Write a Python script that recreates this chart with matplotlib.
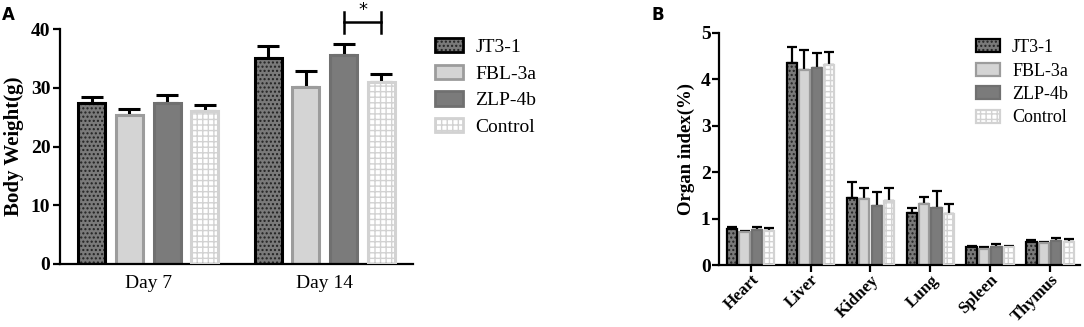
import numpy as np
import matplotlib
matplotlib.use("Agg")
import matplotlib.pyplot as plt
from matplotlib.patches import Patch
from matplotlib.legend_handler import HandlerTuple

# ---------------- data ----------------
groups = ["JT3-1", "FBL-3a", "ZLP-4b", "Control"]
days = ["Day 7", "Day 14"]
bw_mean = {
    "JT3-1": [27.4, 35.0],
    "FBL-3a": [25.4, 30.2],
    "ZLP-4b": [27.4, 35.5],
    "Control": [26.1, 30.9],
}
bw_err = {
    "JT3-1": [1.1, 2.1],
    "FBL-3a": [1.0, 2.6],
    "ZLP-4b": [1.3, 2.0],
    "Control": [1.0, 1.5],
}
organs = ["Heart", "Liver", "Kidney", "Lung", "Spleen", "Thymus"]
oi_mean = {
    "JT3-1": [0.78, 4.36, 1.45, 1.11, 0.39, 0.50],
    "FBL-3a": [0.72, 4.20, 1.42, 1.31, 0.35, 0.47],
    "ZLP-4b": [0.75, 4.24, 1.28, 1.22, 0.39, 0.51],
    "Control": [0.74, 4.30, 1.38, 1.09, 0.38, 0.50],
}
oi_err = {
    "JT3-1": [0.04, 0.33, 0.34, 0.12, 0.02, 0.04],
    "FBL-3a": [0.02, 0.43, 0.25, 0.15, 0.03, 0.03],
    "ZLP-4b": [0.06, 0.32, 0.29, 0.37, 0.06, 0.07],
    "Control": [0.05, 0.30, 0.29, 0.22, 0.02, 0.07],
}

# ---------------- styles ----------------
styles = {
    "JT3-1":   dict(face="#7a7a7a", hatch="....", hcol="#222222", edge="#000000"),
    "FBL-3a":  dict(face="#d4d4d4", hatch=None,   hcol=None,      edge="#9c9c9c"),
    "ZLP-4b":  dict(face="#7b7b7b", hatch=None,   hcol=None,      edge="#707070"),
    "Control": dict(face="#ffffff", hatch="+++",  hcol="#d2d2d2", edge="#d2d2d2"),
}
plt.rcParams["hatch.linewidth"] = 1.0
serif = ["Liberation Serif", "DejaVu Serif"]

fig = plt.figure(figsize=(10.84, 3.27), dpi=100)


def draw_bars(ax, x, h, err, g, width, elw, capsize, edge_lw):
    st = styles[g]
    ax.errorbar(x, h, yerr=[np.zeros_like(err), err], fmt="none",
                ecolor="black", elinewidth=elw, capsize=capsize,
                capthick=elw, zorder=1)
    if st["hatch"]:
        ax.bar(x, h, width, color=st["face"], edgecolor=st["hcol"],
               hatch=st["hatch"], linewidth=0, zorder=2)
        ax.bar(x, h, width, facecolor="none", edgecolor=st["edge"],
               linewidth=edge_lw, zorder=3)
    else:
        ax.bar(x, h, width, color=st["face"], edgecolor=st["edge"],
               linewidth=edge_lw, zorder=2)


def legend_handles(edge_lw):
    hs = []
    for g in groups:
        st = styles[g]
        if st["hatch"]:
            p1 = Patch(facecolor=st["face"], edgecolor=st["hcol"],
                       hatch=st["hatch"], linewidth=0)
            p2 = Patch(facecolor="none", edgecolor=st["edge"], linewidth=edge_lw)
            hs.append((p1, p2))
        else:
            hs.append(Patch(facecolor=st["face"], edgecolor=st["edge"],
                            linewidth=edge_lw))
    return hs


def style_axes(ax, fs, pad):
    for s in ["top", "right"]:
        ax.spines[s].set_visible(False)
    for s in ["left", "bottom"]:
        ax.spines[s].set_linewidth(1.6)
    ax.tick_params(axis="y", direction="out", length=5, width=1.6,
                   labelsize=fs, pad=pad)
    for lab in ax.get_yticklabels():
        lab.set_fontfamily(serif)
        lab.set_fontweight("bold")


# ---------------- Panel A ----------------
axA = fig.add_axes([60 / 1084, 1 - 264 / 327, 353 / 1084, 235 / 327])
xA = np.arange(len(days))
pitchA, wA = 0.214, 0.153
for i, g in enumerate(groups):
    off = (i - 1.5) * pitchA
    draw_bars(axA, xA + off, np.array(bw_mean[g]), np.array(bw_err[g]), g,
              wA, elw=2.2, capsize=8, edge_lw=2.2)
axA.set_xlim(-0.5, 1.5)
axA.set_ylim(0, 40)
axA.set_yticks([0, 10, 20, 30, 40])
style_axes(axA, 14, 2)
axA.set_xticks(xA)
axA.set_xticklabels(days, fontfamily=serif, fontsize=14)
axA.tick_params(axis="x", length=0, pad=8)
axA.set_ylabel("Body Weight(g)", fontfamily=serif, fontweight="bold",
               fontsize=15, labelpad=5)

# significance bracket
x1 = 1 + 0.5 * pitchA
x2 = 1 + 1.5 * pitchA
axA.plot([x1, x2], [41.2, 41.2], color="black", lw=1.8, clip_on=False)
axA.plot([x1, x1], [39.3, 42.9], color="black", lw=1.8, clip_on=False)
axA.plot([x2, x2], [39.3, 42.9], color="black", lw=1.8, clip_on=False)
axA.text((x1 + x2) / 2, 42.3, "*", ha="center", va="baseline", fontsize=13,
         fontfamily="DejaVu Sans")

hmap = {tuple: HandlerTuple(ndivide=1, pad=0)}
legA = axA.legend(legend_handles(2.0), groups, loc="upper left",
                  bbox_to_anchor=(435 / 1084, 1 - 38 / 327),
                  bbox_transform=fig.transFigure, frameon=False,
                  prop={"family": serif, "size": 14},
                  borderpad=0, borderaxespad=0,
                  handlelength=1.45, handleheight=0.75, labelspacing=0.45,
                  handletextpad=0.62, handler_map=hmap)

fig.text(8 / 1084, 1 - 15 / 327, "A", fontsize=12, fontweight="bold",
         fontfamily="DejaVu Sans", ha="center", va="center")

# ---------------- Panel B ----------------
axB = fig.add_axes([719 / 1084, 1 - 265 / 327, 361 / 1084, 232 / 327])
xB = np.arange(len(organs))
pitchB, wB = 0.207, 0.172
for i, g in enumerate(groups):
    off = (i - 1.5) * pitchB
    draw_bars(axB, xB + off, np.array(oi_mean[g]), np.array(oi_err[g]), g,
              wB, elw=1.6, capsize=3.5, edge_lw=1.6)
axB.set_xlim(-0.53, 5.5)
axB.set_ylim(0, 5)
axB.set_yticks([0, 1, 2, 3, 4, 5])
style_axes(axB, 14, 1)
axB.set_xticks(xB)
axB.set_xticklabels(organs, fontfamily=serif, fontweight="bold", fontsize=12.2,
                    rotation=45, ha="right", rotation_mode="anchor")
axB.tick_params(axis="x", direction="out", length=5, width=1.6, pad=0)
axB.set_ylabel("Organ index(%)", fontfamily=serif, fontweight="bold",
               fontsize=13.5, labelpad=4)

legB = axB.legend(legend_handles(1.6), groups, loc="upper left",
                  bbox_to_anchor=(976 / 1084, 1 - 39 / 327),
                  bbox_transform=fig.transFigure, frameon=False,
                  prop={"family": serif, "size": 13},
                  borderpad=0, borderaxespad=0,
                  handlelength=1.33, handleheight=0.7, labelspacing=0.36,
                  handletextpad=0.67, handler_map=hmap)

fig.text(658 / 1084, 1 - 15 / 327, "B", fontsize=12, fontweight="bold",
         fontfamily="DejaVu Sans", ha="center", va="center")

fig.savefig("out.png", dpi=100)
